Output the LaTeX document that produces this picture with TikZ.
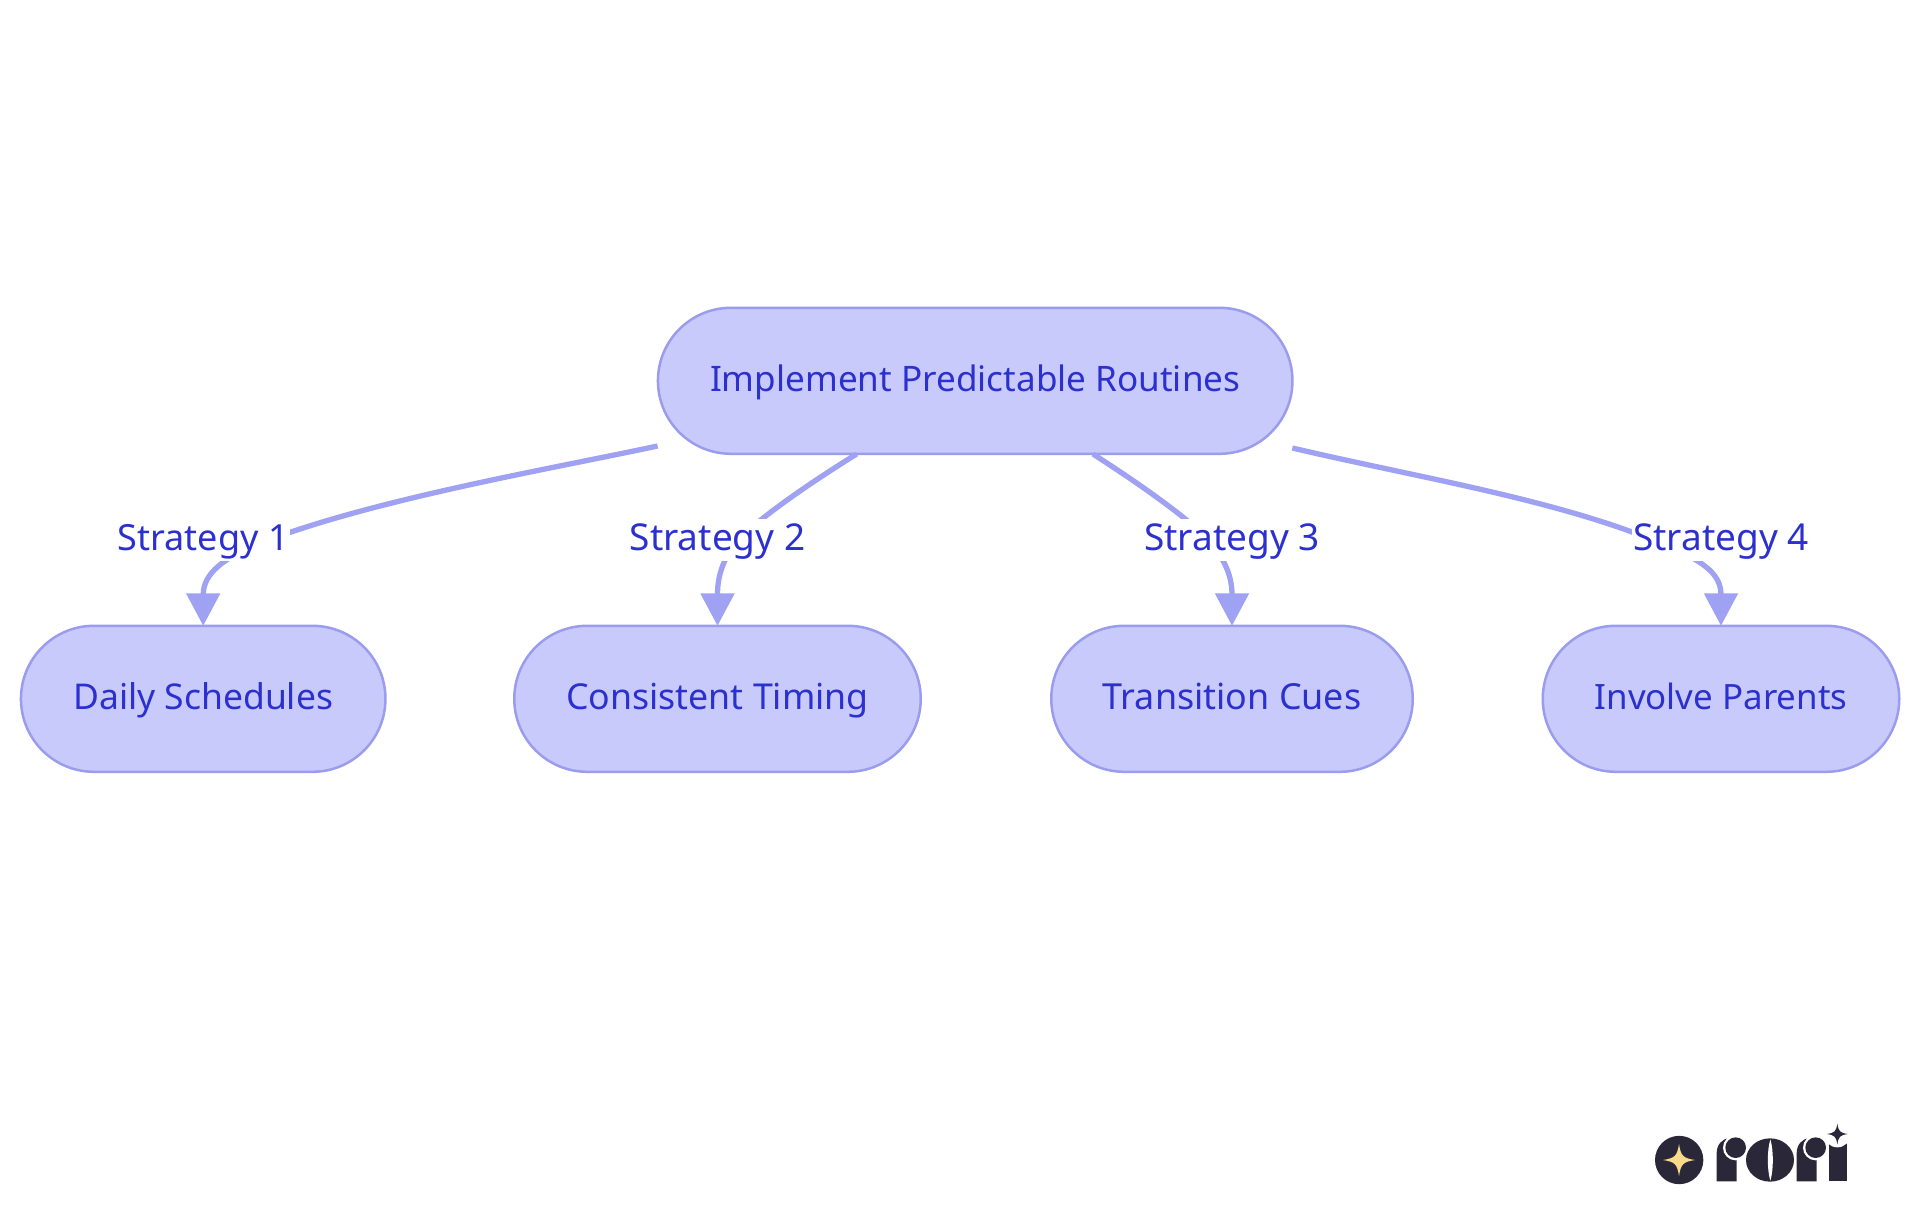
\documentclass[tikz,border=0pt]{standalone}
\usepackage{fontspec}
\setmainfont{Noto Sans}
\usetikzlibrary{shapes.misc,arrows.meta}
\definecolor{nodefill}{HTML}{C8CAFC}
\definecolor{nodeline}{HTML}{9A9DEE}
\definecolor{edgeline}{HTML}{9FA2F3}
\definecolor{inktext}{HTML}{2C30CF}
\definecolor{logodark}{HTML}{2A2838}
\definecolor{logostar}{HTML}{F9D98A}
\newcommand{\sparklestar}[4]{%
  \begin{scope}[shift={(#2,#3)},x=#4*.33333pt,y=#4*.33333pt]
    \fill[#1] (-1,0) .. controls (-.25,-.12) and (-.12,-.25) .. (0,-1)
      .. controls (.12,-.25) and (.25,-.12) .. (1,0)
      .. controls (.25,.12) and (.12,.25) .. (0,1)
      .. controls (-.12,.25) and (-.25,.12) .. (-1,0) -- cycle;
  \end{scope}}
\tikzset{
  x=1pt,y=-1pt,
  pill/.style={rounded rectangle,draw=nodeline,fill=nodefill,line width=2.5pt,inner sep=0pt,outer sep=0pt,
    minimum height=146pt,text=inktext,text height=40.4pt,text depth=20pt,align=center},
  edgelab/.style={fill=white,inner xsep=1pt,inner ysep=0pt,outer sep=0pt,text=inktext,anchor=base,
    text height=31.3pt,text depth=10.9pt,font=\fontsize{37}{40}\selectfont},
  link/.style={draw=edgeline,line width=5.3pt},
  linktip/.style={link,-{Triangle[width=33pt,length=32.5pt]}}
}
\begin{document}
\begin{tikzpicture}
\useasboundingbox (0,0) rectangle (1920,1215);
\fill[white] (0,0) rectangle (1920,1215);
% nodes
\node[pill,minimum width=634.5pt,font=\fontsize{35.1}{40}\selectfont] (root) at (975.2,380.8) {Implement Predictable Routines};
\node[pill,minimum width=364.5pt,font=\fontsize{35.5}{40}\selectfont] (t1) at (203.2,698.8) {Daily Schedules};
\node[pill,minimum width=406.5pt,font=\fontsize{35.7}{40}\selectfont] (t2) at (717.5,698.8) {Consistent Timing};
\node[pill,minimum width=361.5pt,font=\fontsize{35.9}{40}\selectfont] (t3) at (1232,698.8) {Transition Cues};
\node[pill,minimum width=356.5pt,font=\fontsize{34.9}{40}\selectfont] (t4) at (1721,698.8) {Involve Parents};
% free ends on the root box, and hidden mid points under the labels
\coordinate (s1) at (657.6,446);
\coordinate (s2) at (856.6,454);
\coordinate (s3) at (1093,454);
\coordinate (s4) at (1292.3,448);
\coordinate (e1) at (255,545);
\coordinate (e2) at (737,540);
\coordinate (e3) at (1210,540);
\coordinate (e4) at (1665,545);
% connectors
\draw[link] (s1) .. controls (540,471) and (370,500) .. (e1);
\draw[linktip] (e1) .. controls (226,558) and (203.2,572) .. (203.2,595) -- (t1.north);
\draw[link] (s2) .. controls (815,480) and (770,510) .. (e2);
\draw[linktip] (e2) .. controls (725,558) and (717.5,572) .. (717.5,595) -- (t2.north);
\draw[link] (s3) .. controls (1130,478) and (1175,508) .. (e3);
\draw[linktip] (e3) .. controls (1222,558) and (1232,572) .. (1232,595) -- (t3.north);
\draw[link] (s4) .. controls (1420,478) and (1560,500) .. (e4);
\draw[linktip] (e4) .. controls (1700,560) and (1721,572) .. (1721,595) -- (t4.north);
% edge labels
\node[edgelab,font=\fontsize{36}{40}\selectfont] (l1) at (203.2,550.1) {Strategy 1};
\node[edgelab] (l2) at (717.5,550.1) {Strategy 2};
\node[edgelab] (l3) at (1232,550.1) {Strategy 3};
\node[edgelab] (l4) at (1721,550.1) {Strategy 4};
% logo
\begin{scope}[shift={(1620,1100)},x=.33333pt,y=-.33333pt]
  \fill[logodark] (177.5,180) circle[radius=72.5];
  \sparklestar{logostar}{177}{180}{48}
  % first r
  \fill[logodark] (290,244) -- (290,160) .. controls (290,135) and (305,115) .. (330,115) -- (350,115) -- (350,244) -- cycle;
  \fill[white] (347,143) circle[radius=38];
  \fill[logodark] (347,143) circle[radius=31];
  % o
  \fill[logodark] (450,180) ellipse[x radius=72,y radius=65];
  \fill[white] (451,118) .. controls (441,150) and (441,210) .. (451,242) .. controls (461,210) and (461,150) .. (451,118) -- cycle;
  % second r
  \fill[logodark] (530,244) -- (530,160) .. controls (530,135) and (545,115) .. (570,115) -- (590,115) -- (590,244) -- cycle;
  \fill[white] (587,143) circle[radius=38];
  \fill[logodark] (587,143) circle[radius=31];
  % i
  \fill[logodark] (627,244) -- (627,125) -- (680,125) -- (680,244) -- cycle;
  \fill[white] (652,102) circle[radius=40];
  \sparklestar{logodark}{652}{102}{31}
\end{scope}
\end{tikzpicture}
\end{document}
